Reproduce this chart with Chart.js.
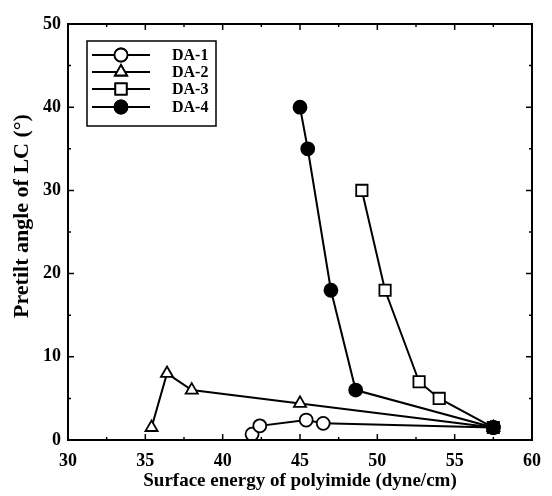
<!DOCTYPE html>
<html>
<head>
<meta charset="utf-8">
<script src="https://cdn.jsdelivr.net/npm/chart.js@4/dist/chart.umd.min.js"></script>
<style>
  html, body { margin: 0; padding: 0; background: #fff; }
  #wrap { width: 552px; height: 496px; }
</style>
</head>
<body>
<div id="wrap"><canvas id="c" width="552" height="496"></canvas></div>
<script>
// values
const seriesNames = ['DA-1', 'DA-2', 'DA-3', 'DA-4'];
const da1X = [41.9, 42.4, 45.4, 46.5, 57.5];
const da1Y = [0.7, 1.7, 2.4, 2.0, 1.5];
const da2X = [35.4, 36.4, 38.0, 45.0, 57.5];
const da2Y = [1.5, 8.0, 6.0, 4.4, 1.5];
const da3X = [49.0, 50.5, 52.7, 54.0, 57.5];
const da3Y = [30, 18, 7, 5, 1.5];
const da4X = [45.0, 45.5, 47.0, 48.6, 57.5];
const da4Y = [40, 35, 18, 6, 1.5];
const xTicks = [30, 35, 40, 45, 50, 55, 60];
const yTicks = [0, 10, 20, 30, 40, 50];
const xTitle = 'Surface energy of polyimide (dyne/cm)';
const yTitle = 'Pretilt angle of LC (°)';

const FONT = "'Liberation Serif', 'Times New Roman', serif";
const pts = (xs, ys) => xs.map((x, i) => ({ x, y: ys[i] }));

const styles = [
  { pointStyle: 'circle', fill: '#fff', r: 6.5, order: 3 },
  { pointStyle: 'triangle', fill: '#fff', r: 7, order: 2 },
  { pointStyle: 'rect', fill: '#fff', r: 8, order: 0 },
  { pointStyle: 'circle', fill: '#000', r: 6.5, order: 1 }
];

const datasets = [[da1X, da1Y], [da2X, da2Y], [da3X, da3Y], [da4X, da4Y]].map(([xs, ys], i) => ({
  label: seriesNames[i],
  data: pts(xs, ys),
  order: styles[i].order,
  showLine: true,
  borderColor: '#000',
  borderWidth: 2,
  pointStyle: styles[i].pointStyle,
  pointRadius: styles[i].r,
  // the shared end point shows up as a solid black square in the figure
  pointBackgroundColor: xs.map((x, j) => (i === 2 && j === xs.length - 1) ? '#000' : styles[i].fill),
  pointBorderColor: '#000',
  pointBorderWidth: 1.8
}));

// frame on all four sides with inward ticks, the y title and an in-plot legend
const framePlugin = {
  id: 'frame',
  afterDraw(chart) {
    const { ctx, chartArea: a, scales: { x, y } } = chart;
    ctx.save();
    ctx.strokeStyle = '#000';
    ctx.lineWidth = 2;
    ctx.strokeRect(a.left, a.top, a.right - a.left, a.bottom - a.top);
    ctx.lineWidth = 1.5;
    ctx.beginPath();
    for (let v = 30; v <= 60; v += 2.5) {
      const px = x.getPixelForValue(v);
      const len = v % 5 === 0 ? 6 : 3;
      ctx.moveTo(px, a.bottom); ctx.lineTo(px, a.bottom - len);
      ctx.moveTo(px, a.top); ctx.lineTo(px, a.top + len);
    }
    for (let v = 0; v <= 50; v += 5) {
      const py = y.getPixelForValue(v);
      const len = v % 10 === 0 ? 6 : 3;
      ctx.moveTo(a.left, py); ctx.lineTo(a.left + len, py);
      ctx.moveTo(a.right, py); ctx.lineTo(a.right - len, py);
    }
    ctx.stroke();

    // y title sits a bit above the middle of the axis
    ctx.fillStyle = '#000';
    ctx.font = 'bold 22px ' + FONT;
    ctx.textAlign = 'center';
    ctx.textBaseline = 'middle';
    ctx.save();
    ctx.translate(22, 216);
    ctx.rotate(-Math.PI / 2);
    ctx.fillText(yTitle, 0, 0);
    ctx.restore();

    // legend box
    const bx = 87, by = 41, bw = 129, bh = 85;
    ctx.fillStyle = '#fff';
    ctx.fillRect(bx, by, bw, bh);
    ctx.lineWidth = 1.5;
    ctx.strokeRect(bx, by, bw, bh);
    const rows = [55, 72, 89, 107];
    chart.data.datasets.forEach((ds, i) => {
      const ry = rows[i];
      ctx.lineWidth = 2;
      ctx.beginPath();
      ctx.moveTo(92, ry); ctx.lineTo(150, ry);
      ctx.stroke();
      ctx.lineWidth = 1.8;
      ctx.fillStyle = styles[i].fill;
      Chart.helpers.drawPoint(ctx, { pointStyle: ds.pointStyle, radius: ds.pointRadius, borderWidth: 1.8 }, 121, ry);
      ctx.fill();
      ctx.stroke();
      ctx.fillStyle = '#000';
      ctx.font = 'bold 16px ' + FONT;
      ctx.textAlign = 'left';
      ctx.textBaseline = 'middle';
      ctx.fillText(ds.label, 172, ry + 1);
    });
    ctx.restore();
  }
};

new Chart(document.getElementById('c'), {
  type: 'scatter',
  data: { datasets },
  options: {
    responsive: false,
    animation: false,
    layout: { padding: { left: 0, right: 19, top: 24, bottom: 0 } },
    plugins: { legend: { display: false }, tooltip: { enabled: false } },
    scales: {
      x: {
        type: 'linear', min: 30, max: 60,
        afterBuildTicks: s => { s.ticks = xTicks.map(v => ({ value: v })); },
        grid: { display: false, tickLength: 0 },
        border: { display: false },
        ticks: { color: '#000', font: { family: FONT, size: 18, weight: 'bold' }, padding: 11, maxRotation: 0 },
        title: { display: true, text: xTitle, color: '#000',
                 font: { family: FONT, size: 19, weight: 'bold' }, padding: { top: 0, bottom: 4 } },
        afterFit: s => { s.height = 56; }
      },
      y: {
        type: 'linear', min: 0, max: 50,
        afterBuildTicks: s => { s.ticks = yTicks.map(v => ({ value: v })); },
        grid: { display: false, tickLength: 0 },
        border: { display: false },
        ticks: { color: '#000', font: { family: FONT, size: 18, weight: 'bold' }, padding: 7 },
        title: { display: false },
        afterFit: s => { s.width = 68; }
      }
    }
  },
  plugins: [framePlugin]
});
</script>
</body>
</html>
